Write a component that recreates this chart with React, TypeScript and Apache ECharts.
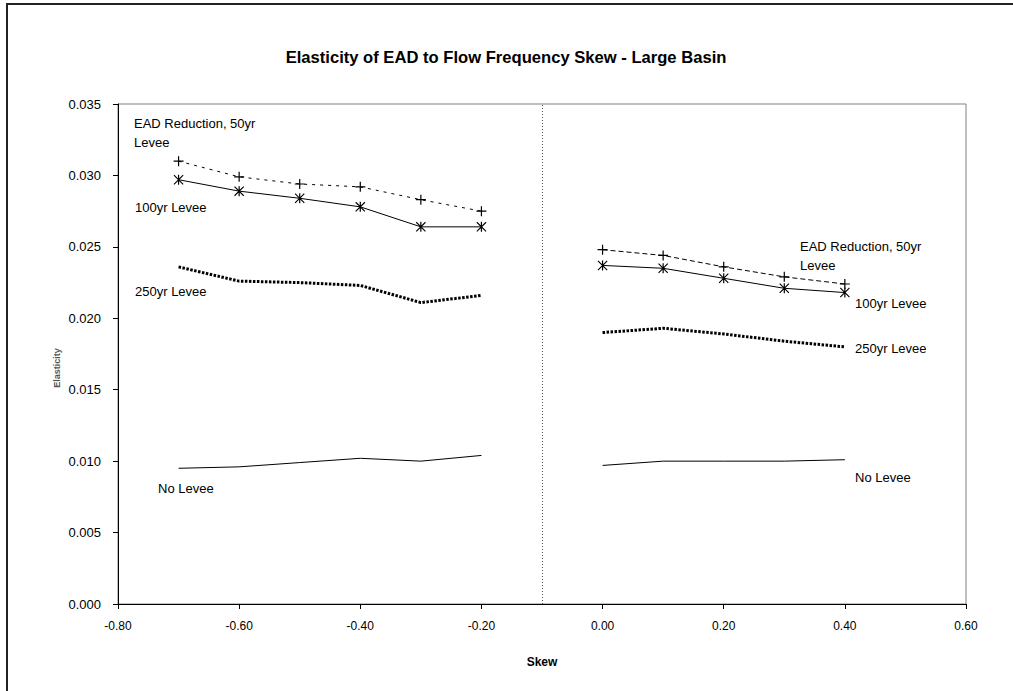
import React, { useEffect, useRef } from "react";
import * as echarts from "echarts";

const xLeft = [-0.7, -0.6, -0.5, -0.4, -0.3, -0.2];
const xRight = [0.0, 0.1, 0.2, 0.3, 0.4];

const levee50Left = [0.0310, 0.0299, 0.0294, 0.0292, 0.0283, 0.0275];
const levee100Left = [0.0297, 0.0289, 0.0284, 0.0278, 0.0264, 0.0264];
const levee250Left = [0.0236, 0.0226, 0.0225, 0.0223, 0.0211, 0.0216];
const noLeveeLeft = [0.0095, 0.0096, 0.0099, 0.0102, 0.0100, 0.0104];

const levee50Right = [0.0248, 0.0244, 0.0236, 0.0229, 0.0224];
const levee100Right = [0.0237, 0.0235, 0.0228, 0.0221, 0.0218];
const levee250Right = [0.0190, 0.0193, 0.0189, 0.0184, 0.0180];
const noLeveeRight = [0.0097, 0.0100, 0.0100, 0.0100, 0.0101];

const dividerSkew = -0.1;

const titleText = "Elasticity of EAD to Flow Frequency Skew - Large Basin";
const xName = "Skew";
const yName = "Elasticity";

const FONT = "'Liberation Sans', Arial, sans-serif";

const PLUS = "path://M4.4,0h1.2v4.4h4.4v1.2h-4.4v4.4h-1.2v-4.4h-4.4v-1.2h4.4z";
const ASTER =
  "path://M0,0.8L0.8,0L10,9.2L9.2,10ZM0.8,10L0,9.2L9.2,0L10,0.8ZM4.4,0L5.6,0L5.6,10L4.4,10Z";

function pts(xs: number[], ys: number[]) {
  return xs.map((x, i) => [x, ys[i]]);
}

function label(text: string, x: number, y: number) {
  return {
    type: "text",
    x,
    y,
    style: {
      text,
      fill: "#000",
      font: `13px ${FONT}`,
      textAlign: "left",
      textVerticalAlign: "middle",
    },
  };
}

export default function App() {
  const ref = useRef<HTMLDivElement>(null);

  useEffect(() => {
    document.body.style.margin = "0";
    const chart = echarts.init(ref.current!, null, { renderer: "svg" });

    const base = {
      type: "line",
      showSymbol: true,
      silent: true,
      itemStyle: { color: "#000" },
      z: 3,
    };

    chart.setOption({
      animation: false,
      backgroundColor: "#fff",
      grid: {
        left: 118,
        top: 104,
        right: 47,
        bottom: 87,
        show: true,
        borderColor: "#808080",
        borderWidth: 1,
        backgroundColor: "transparent",
      },
      xAxis: {
        type: "value",
        min: -0.8,
        max: 0.6,
        interval: 0.2,
        name: xName,
        nameLocation: "middle",
        nameGap: 52,
        nameTextStyle: { fontWeight: "bold", fontSize: 12, color: "#000", fontFamily: FONT },
        axisLine: { show: true, onZero: false, lineStyle: { color: "#000", width: 1 } },
        axisTick: { show: true, length: 5, lineStyle: { color: "#000" } },
        axisLabel: {
          formatter: (v: number) => v.toFixed(2),
          color: "#000",
          fontSize: 12,
          fontFamily: FONT,
          margin: 16,
        },
        splitLine: { show: false },
      },
      yAxis: {
        type: "value",
        min: 0,
        max: 0.035,
        interval: 0.005,
        axisLine: { show: true, onZero: false, lineStyle: { color: "#000", width: 1 } },
        axisTick: { show: true, length: 5, lineStyle: { color: "#000" } },
        axisLabel: {
          formatter: (v: number) => v.toFixed(3),
          color: "#000",
          fontSize: 13,
          fontFamily: FONT,
          margin: 17,
        },
        splitLine: { show: false },
      },
      series: [
        {
          ...base,
          name: "EAD Reduction, 50yr Levee (left)",
          data: pts(xLeft, levee50Left),
          symbol: PLUS,
          symbolSize: 10,
          lineStyle: { color: "#000", width: 1, type: [3, 5] },
          markLine: {
            silent: true,
            symbol: ["none", "none"],
            label: { show: false },
            lineStyle: { color: "#555", width: 1, type: [1, 2] },
            data: [{ xAxis: dividerSkew }],
          },
        },
        {
          ...base,
          name: "100yr Levee (left)",
          data: pts(xLeft, levee100Left),
          symbol: ASTER,
          symbolSize: 10,
          lineStyle: { color: "#000", width: 1, type: "solid" },
        },
        {
          ...base,
          name: "250yr Levee (left)",
          data: pts(xLeft, levee250Left),
          symbol: "none",
          lineStyle: { color: "#000", width: 3, type: [2.5, 1.5] },
        },
        {
          ...base,
          name: "No Levee (left)",
          data: pts(xLeft, noLeveeLeft),
          symbol: "none",
          lineStyle: { color: "#000", width: 1, type: "solid" },
        },
        {
          ...base,
          name: "EAD Reduction, 50yr Levee (right)",
          data: pts(xRight, levee50Right),
          symbol: PLUS,
          symbolSize: 10,
          lineStyle: { color: "#000", width: 1, type: [5, 3] },
        },
        {
          ...base,
          name: "100yr Levee (right)",
          data: pts(xRight, levee100Right),
          symbol: ASTER,
          symbolSize: 10,
          lineStyle: { color: "#000", width: 1, type: "solid" },
        },
        {
          ...base,
          name: "250yr Levee (right)",
          data: pts(xRight, levee250Right),
          symbol: "none",
          lineStyle: { color: "#000", width: 3, type: [2.5, 1.5] },
        },
        {
          ...base,
          name: "No Levee (right)",
          data: pts(xRight, noLeveeRight),
          symbol: "none",
          lineStyle: { color: "#000", width: 1, type: "solid" },
        },
      ],
      graphic: [
        {
          type: "rect",
          shape: { x: 7, y: 4, width: 1020, height: 700 },
          style: { fill: "none", stroke: "#222", lineWidth: 2 },
          silent: true,
        },
        {
          type: "text",
          x: 506,
          y: 57,
          style: {
            text: titleText,
            fill: "#000",
            font: `bold 16.6px ${FONT}`,
            textAlign: "center",
            textVerticalAlign: "middle",
          },
        },
        {
          type: "text",
          x: 57,
          y: 368,
          rotation: Math.PI / 2,
          style: {
            text: yName,
            fill: "#555",
            font: `bold 9px ${FONT}`,
            textAlign: "center",
            textVerticalAlign: "middle",
          },
        },
        label("EAD Reduction, 50yr", 134, 123),
        label("Levee", 134, 142),
        label("100yr Levee", 135, 207),
        label("250yr Levee", 135, 291),
        label("No Levee", 158, 488),
        label("EAD Reduction, 50yr", 800, 246),
        label("Levee", 800, 265),
        label("100yr Levee", 855, 303),
        label("250yr Levee", 855, 348),
        label("No Levee", 855, 477),
      ],
    });

    return () => chart.dispose();
  }, []);

  return (
    <div
      ref={ref}
      style={{ position: "absolute", left: 0, top: 0, width: 1013, height: 691 }}
    />
  );
}
